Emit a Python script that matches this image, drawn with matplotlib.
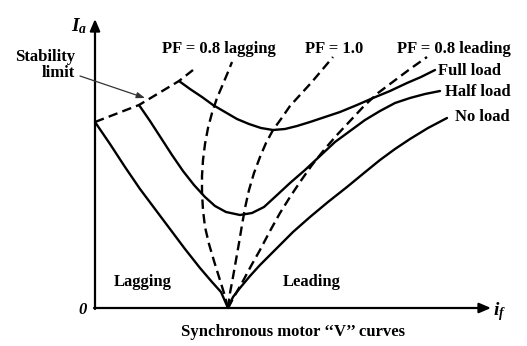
import matplotlib
matplotlib.use("Agg")
import matplotlib.pyplot as plt

# ---- data (field current i_f, armature current I_a), arbitrary units ----
noload_if = [0, 15, 30, 45, 60, 75, 90, 105, 117, 126, 133, 138, 145, 155, 165, 180, 198, 215, 233, 252, 269, 285, 300, 315, 333, 352]
noload_ia = [186, 164, 141, 119, 99, 79, 59, 40, 26, 16, 0, 11, 20, 32, 43, 58, 76, 91, 106, 121, 135, 148, 159, 169, 180, 190]

halfload_if = [44, 55, 66, 77, 88, 99, 110, 120, 131, 145, 157, 169, 181, 195, 210, 225, 240, 255, 270, 285, 300, 315, 330, 345]
halfload_ia = [203, 187, 170, 153, 137, 123, 111, 102, 96, 93, 95, 101, 112, 125, 138, 152, 166, 177, 188, 197, 205, 210, 214, 217]

fullload_if = [84, 95, 107, 118, 130, 142, 154, 166, 178, 190, 202, 215, 230, 245, 262, 278, 295, 312, 326, 340]
fullload_ia = [227, 219, 211, 203, 196, 189, 184, 180, 178, 179, 182, 186, 191, 196, 203, 210, 217, 225, 231, 238]

stab_if = [0, 44, 84, 98]
stab_ia = [186, 203, 227, 238]

pf_lag_if = [133, 129, 124, 119, 114, 110, 108, 107, 107, 108, 110, 113, 117, 122, 128, 133, 137]
pf_lag_ia = [0, 15, 31, 47, 64, 81, 98, 115, 132, 148, 164, 180, 195, 210, 224, 236, 246]

pf_unity_if = [133, 135, 138, 141, 144, 147, 150, 154, 159, 165, 171, 178, 186, 195, 205, 216, 227, 238]
pf_unity_ia = [0, 15, 31, 48, 65, 83, 100, 118, 135, 151, 165, 178, 189, 202, 213, 225, 238, 251]

pf_lead_if = [133, 140, 148, 156, 165, 175, 185, 195, 205, 217, 229, 241, 255, 269, 283, 299, 315, 332]
pf_lead_ia = [0, 13, 27, 42, 58, 77, 95, 111, 126, 143, 158, 172, 187, 202, 215, 227, 239, 251]

curve_labels = ["Full load", "Half load", "No load"]
pf_labels = ["PF = 0.8 lagging", "PF = 1.0", "PF = 0.8 leading"]
region_labels = ["Lagging", "Leading"]
caption = "Synchronous motor \u2018\u2018V\u2019\u2019 curves"

plt.rcParams['font.family'] = ['Liberation Serif', 'DejaVu Serif']
plt.rcParams['mathtext.fontset'] = 'custom'
plt.rcParams['mathtext.rm'] = 'Liberation Serif:bold'
plt.rcParams['mathtext.it'] = 'Liberation Serif:italic:bold'

fig = plt.figure(figsize=(5.27, 3.46), dpi=100)
ax = fig.add_axes([0, 0, 1, 1])
ax.set_xlim(-95, 432)
ax.set_ylim(-38, 308)
ax.axis('off')

lw = 1.7
dash = (0, (4, 2.2))
for xs, ys in [(noload_if, noload_ia), (halfload_if, halfload_ia), (fullload_if, fullload_ia)]:
    ax.plot(xs, ys, color='black', lw=lw, solid_joinstyle='round', solid_capstyle='round')
for xs, ys in [(stab_if, stab_ia), (pf_lag_if, pf_lag_ia), (pf_unity_if, pf_unity_ia), (pf_lead_if, pf_lead_ia)]:
    ax.plot(xs, ys, color='black', lw=lw, linestyle=dash)

# axes with arrows
ax.annotate('', xy=(0, 289), xytext=(0, -1),
            arrowprops=dict(arrowstyle='-|>,head_length=0.7,head_width=0.3', color='black', lw=1.6,
                            shrinkA=0, shrinkB=0))
ax.annotate('', xy=(396, 0), xytext=(-1, 0),
            arrowprops=dict(arrowstyle='-|>,head_length=0.7,head_width=0.3', color='black', lw=1.6,
                            shrinkA=0, shrinkB=0))

fs = 12
tk = dict(fontsize=fs, fontweight='bold', color='black')
ax.text(-16, 282, r'$I_a$', ha='center', va='center', fontsize=14)
ax.text(405, -4, r'$i_f$', ha='center', va='center', fontsize=14)
ax.text(-12, -2, '0', ha='center', va='center', fontsize=fs, fontweight='bold', style='italic')

ax.text(-20, 243, "Stability\nlimit", ha='right', va='center', multialignment='right',
        linespacing=1.0, **tk)
ax.annotate('', xy=(50, 210), xytext=(-15, 232),
            arrowprops=dict(arrowstyle='-|>,head_length=0.5,head_width=0.18', color='#333333', lw=0.9,
                            shrinkA=0, shrinkB=0))

ax.text(124, 259, pf_labels[0], ha='center', va='center', **tk)
ax.text(239, 259, pf_labels[1], ha='center', va='center', **tk)
ax.text(359, 259, pf_labels[2], ha='center', va='center', **tk)

ax.text(343, 237, curve_labels[0], ha='left', va='center', **tk)
ax.text(350, 216, curve_labels[1], ha='left', va='center', **tk)
ax.text(360, 191, curve_labels[2], ha='left', va='center', **tk)

ax.text(48, 26, region_labels[0], ha='center', va='center', **tk)
ax.text(217, 26, region_labels[1], ha='center', va='center', **tk)
ax.text(198, -24, caption, ha='center', va='center', **tk)

fig.savefig('out.png', dpi=100)
